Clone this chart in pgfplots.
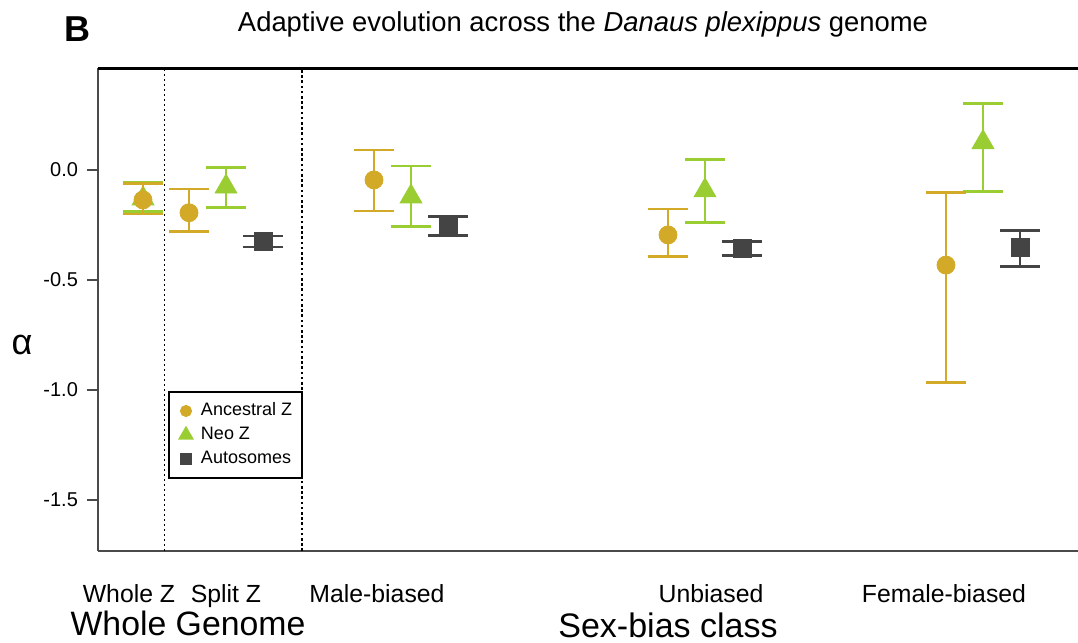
\documentclass[border=0pt]{standalone}
\usepackage{pgfplots}
\pgfplotsset{compat=1.18}
\usepackage{fontspec}
\setmainfont{Liberation Sans}
\definecolor{anc}{HTML}{D2AA28}
\definecolor{neo}{HTML}{9ACD32}
\definecolor{aut}{HTML}{444444}
\definecolor{axgray}{HTML}{4A4A4A}
\begin{document}
\begin{tikzpicture}
\begin{axis}[
  at={(49pt,46pt)}, anchor=south west,
  scale only axis, width=490pt, height=241.5pt,
  xmin=98, xmax=1078, ymin=-1.732, ymax=0.464,
  clip mode=individual,
  axis x line*=bottom, axis y line*=left,
  axis line style={-, draw=axgray, line width=1pt},
  tick align=outside, major tick length=5.5pt,
  ytick={-1.5,-1,-0.5,0},
  ytick style={draw=axgray, line width=1pt},
  xtick={129,226,377,711,944},
  xticklabels={Whole Z, Split Z, Male-biased, Unbiased, Female-biased},
  xtick style={draw=none},
  xticklabel style={font=\fontsize{12.4}{14}\selectfont, anchor=base, yshift=-20pt},
  yticklabel style={font=\fontsize{10}{12}\selectfont, xshift=-1pt},
  /pgf/number format/assume math mode=true,
  /pgf/number format/.cd, fixed, fixed zerofill, precision=1, /pgfplots/.cd,
  every axis y label/.style={at={(rel axis cs:0,0.4265)}, xshift=-38pt, anchor=center, font=\fontsize{18}{20}\selectfont},
  ylabel={α},
  legend image code/.code={\path (0pt,0pt) (10pt,0pt); \draw[#1] plot coordinates {(4pt,0pt)};},
  legend style={at={(axis cs:168,-1.0045)}, anchor=north west, draw=black, line width=1pt,
    font=\fontsize{9}{10}\selectfont, inner xsep=4pt, inner ysep=4pt, row sep=1pt,
    nodes={inner sep=1pt, text height=7pt, text depth=2pt}},
  legend cell align=left,
]
% top border
\draw[black, line width=1.5pt] (rel axis cs:0,1) -- (rel axis cs:1,1);
% separators
\addplot[forget plot, black, line width=0.5pt, dash pattern=on 1pt off 1.5pt] coordinates {(165,-1.732) (165,0.464)};
\addplot[forget plot, black, line width=1.3pt, dash pattern=on 1.3pt off 1.3pt] coordinates {(302,-1.732) (302,0.464)};

% Neo Z
\addplot[forget plot, neo, only marks, mark=triangle*, mark size=6.3pt,
  error bars/.cd, y dir=both, y explicit,
  error bar style={line width=1.3pt, neo},
  error mark options={rotate=90, neo, line width=1.4pt, mark size=10pt}]
  coordinates {
  (143,-0.130) += (0,0.074) -= (0,0.060)
  (226,-0.076) += (0,0.088) -= (0,0.095)
  (411,-0.121) += (0,0.139) -= (0,0.135)
  (705,-0.093) += (0,0.140) -= (0,0.145)
  (983,0.126)  += (0,0.177) -= (0,0.224)
  };
% Ancestral Z
\addplot[forget plot, anc, only marks, mark=*, mark size=4.5pt,
  error bars/.cd, y dir=both, y explicit,
  error bar style={line width=1.3pt, anc},
  error mark options={rotate=90, anc, line width=1.4pt, mark size=10pt}]
  coordinates {
  (143,-0.136) += (0,0.076) -= (0,0.064)
  (189,-0.194) += (0,0.108) -= (0,0.086)
  (374,-0.045) += (0,0.136) -= (0,0.141)
  (668,-0.295) += (0,0.118) -= (0,0.099)
  (946,-0.432) += (0,0.329) -= (0,0.535)
  };
% Autosomes
\addplot[forget plot, aut, only marks, mark=square*, mark size=4.5pt,
  error bars/.cd, y dir=both, y explicit,
  error bar style={line width=1.3pt, aut},
  error mark options={rotate=90, aut, line width=1.4pt, mark size=10pt}]
  coordinates {
  (263,-0.323) += (0,0.023) -= (0,0.027)
  (448,-0.255) += (0,0.043) -= (0,0.043)
  (742,-0.358) += (0,0.032) -= (0,0.032)
  (1020,-0.353) += (0,0.077) -= (0,0.087)
  };

\addlegendimage{only marks, mark=*, anc, mark size=2.5pt}
\addlegendentry{Ancestral Z}
\addlegendimage{only marks, mark=triangle*, neo, mark size=3.6pt}
\addlegendentry{Neo Z}
\addlegendimage{only marks, mark=square*, aut, mark size=2.3pt}
\addlegendentry{Autosomes}

\node[anchor=base, font=\fontsize{16.9}{18}\selectfont] at (axis cs:188,-1.732) [yshift=-42.5pt] {Whole Genome};
\node[anchor=base, font=\fontsize{17}{18}\selectfont] at (axis cs:668,-1.732) [yshift=-43.5pt] {Sex-bias class};
\end{axis}
\node[anchor=base, font=\fontsize{13.7}{15}\selectfont] at (291.5pt,305.5pt) {Adaptive evolution across the \textit{Danaus plexippus} genome};
\node[anchor=base, font=\fontsize{18}{20}\selectfont\bfseries] at (38.8pt,300.5pt) {B};
\pgfresetboundingbox
\path[use as bounding box] (0,0) rectangle (539pt,321.5pt);
\end{tikzpicture}
\end{document}
